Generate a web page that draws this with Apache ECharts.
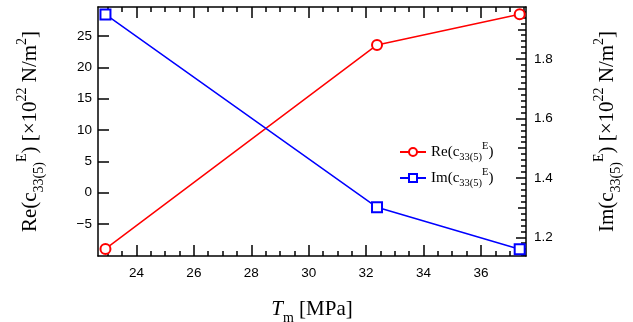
<!DOCTYPE html>
<html>
<head>
<meta charset="utf-8">
<script src="https://cdn.jsdelivr.net/npm/echarts@6/dist/echarts.min.js"></script>
<style>
  html, body { margin: 0; padding: 0; background: #fff; }
  #chart { width: 633px; height: 322px; }
</style>
</head>
<body>
<div id="chart"></div>
<script>
// values
const pressure = [22.92, 32.38, 37.35];
const reValues = [-8.98, 23.57, 28.46];
const imValues = [1.950, 1.301, 1.160];

const xTickLabels = [24, 26, 28, 30, 32, 34, 36];
const reTickLabels = [-5, 0, 5, 10, 15, 20, 25];
const imTickLabels = [1.2, 1.4, 1.6, 1.8];

const X_MIN = 22.66, X_MAX = 37.57;
const RE_MIN = -10.11, RE_MAX = 29.62;
const IM_MIN = 1.137, IM_MAX = 1.975;

// minor ticks (every 0.5 on x, every 0.02 on the right axis, medium at 0.1)
const xMinor = [];
for (let k = 46; k <= 75; k++) {
  if (k % 4 !== 0) xMinor.push(k / 2);
}
const imMedium = [];
const imMinor = [];
for (let k = 57; k <= 98; k++) {
  if (k % 10 === 0) continue;
  if (k % 5 === 0) imMedium.push(k / 50);
  else imMinor.push(k / 50);
}

const serif = '"Liberation Serif", "Times New Roman", serif';
const sans = '"Liberation Sans", Arial, sans-serif';

const nameRich = {
  b: { fontFamily: serif, fontSize: 21, color: '#000', lineHeight: 31, verticalAlign: 'middle' },
  sub: { fontFamily: serif, fontSize: 14, color: '#000', lineHeight: 14, verticalAlign: 'bottom' },
  sup: { fontFamily: serif, fontSize: 14, color: '#000', lineHeight: 14, verticalAlign: 'top' },
  i: { fontFamily: serif, fontSize: 21, color: '#000', fontStyle: 'italic', lineHeight: 31, verticalAlign: 'middle' }
};

const legendRich = {
  b: { fontFamily: serif, fontSize: 15, color: '#000', lineHeight: 22, verticalAlign: 'middle' },
  sub: { fontFamily: serif, fontSize: 10.5, color: '#000', lineHeight: 10, verticalAlign: 'bottom' },
  sup: { fontFamily: serif, fontSize: 10.5, color: '#000', lineHeight: 10, verticalAlign: 'top' }
};

const black = { color: '#000', width: 1.5 };

function tickAxis(base, values, len, pos) {
  return Object.assign({
    type: 'value',
    position: pos,
    axisLine: { show: false, onZero: false },
    axisTick: { show: true, inside: true, length: len, lineStyle: black, customValues: values },
    axisLabel: { show: false },
    splitLine: { show: false }
  }, base);
}

const chart = echarts.init(document.getElementById('chart'), null, { renderer: 'canvas' });

chart.setOption({
  animation: false,
  backgroundColor: '#fff',
  grid: { left: 98, right: 107, top: 7, bottom: 66, containLabel: false, outerBoundsMode: 'none' },
  legend: {
    orient: 'vertical',
    left: 394,
    top: 136,
    itemWidth: 26,
    itemHeight: 10,
    itemGap: 4,
    data: ['Re', 'Im'],
    formatter: name => '{b|' + name + '(c}{sub|33(5)}{sup|E}{b|)}',
    textStyle: { rich: legendRich }
  },
  xAxis: [
    {
      type: 'value',
      position: 'bottom',
      min: X_MIN,
      max: X_MAX,
      axisLine: { show: true, onZero: false, lineStyle: black },
      axisTick: { show: true, inside: true, length: 11, lineStyle: black, customValues: xTickLabels },
      axisLabel: { color: '#000', fontFamily: sans, fontSize: 13.5, margin: 10, customValues: xTickLabels },
      splitLine: { show: false },
      name: '{i|T}{sub|m}{b| [MPa]}',
      nameLocation: 'middle',
      nameGap: 38,
      nameTextStyle: { rich: nameRich }
    },
    tickAxis({ min: X_MIN, max: X_MAX }, xMinor, 5, 'bottom'),
    Object.assign(tickAxis({ min: X_MIN, max: X_MAX }, xTickLabels, 11, 'top'), { axisLine: { show: true, onZero: false, lineStyle: black } }),
    tickAxis({ min: X_MIN, max: X_MAX }, xMinor, 5, 'top')
  ],
  yAxis: [
    {
      type: 'value',
      position: 'left',
      min: RE_MIN,
      max: RE_MAX,
      axisLine: { show: true, onZero: false, lineStyle: black },
      axisTick: { show: true, inside: true, length: 11, lineStyle: black, customValues: reTickLabels },
      axisLabel: {
        color: '#000', fontFamily: sans, fontSize: 13.5, margin: 6, customValues: reTickLabels,
        formatter: v => String(v).replace('-', '\u2212')
      },
      splitLine: { show: false },
      name: '{b|Re(c}{sub|33(5)}{sup|E}{b|) [×10}{sup|22}{b| N/m}{sup|2}{b|]}',
      nameLocation: 'middle',
      nameRotate: 90,
      nameGap: 52,
      nameTextStyle: { rich: nameRich }
    },
    {
      type: 'value',
      position: 'right',
      min: IM_MIN,
      max: IM_MAX,
      axisLine: { show: true, onZero: false, lineStyle: black },
      axisTick: { show: true, inside: true, length: 10, lineStyle: black, customValues: imTickLabels },
      axisLabel: {
        color: '#000', fontFamily: sans, fontSize: 13.5, margin: 8, customValues: imTickLabels,
        formatter: v => v.toFixed(1)
      },
      splitLine: { show: false },
      name: '{b|Im(c}{sub|33(5)}{sup|E}{b|) [×10}{sup|22}{b| N/m}{sup|2}{b|]}',
      nameLocation: 'middle',
      nameRotate: 90,
      nameGap: 66,
      nameTextStyle: { rich: nameRich }
    },
    tickAxis({ min: IM_MIN, max: IM_MAX }, imMedium, 8, 'right'),
    tickAxis({ min: IM_MIN, max: IM_MAX }, imMinor, 5, 'right')
  ],
  series: [
    {
      name: 'Re',
      type: 'line',
      xAxisIndex: 0,
      yAxisIndex: 0,
      symbol: 'emptyCircle',
      symbolSize: 10,
      color: '#ff0000',
      lineStyle: { color: '#ff0000', width: 1.5 },
      itemStyle: { color: '#ff0000', borderWidth: 1.3 },
      data: pressure.map((x, i) => [x, reValues[i]])
    },
    {
      name: 'Im',
      type: 'line',
      xAxisIndex: 0,
      yAxisIndex: 1,
      symbol: 'emptyRect',
      symbolSize: 10,
      color: '#0000ff',
      lineStyle: { color: '#0000ff', width: 1.5 },
      itemStyle: { color: '#0000ff', borderWidth: 1.3 },
      data: pressure.map((x, i) => [x, imValues[i]])
    }
  ]
});
</script>
</body>
</html>
